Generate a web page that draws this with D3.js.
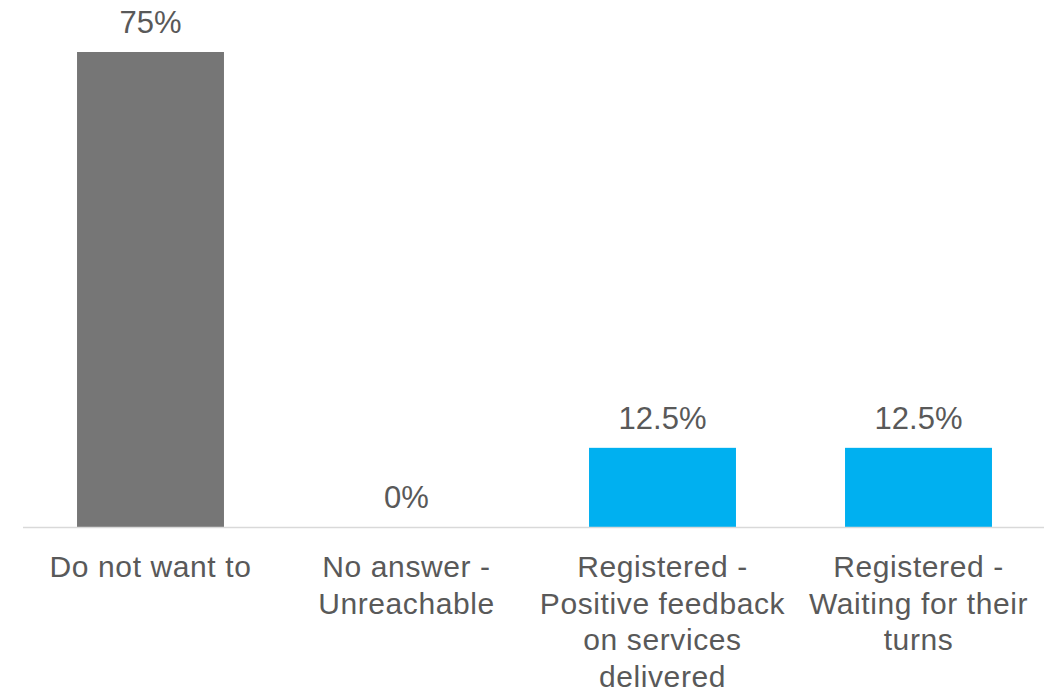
<!DOCTYPE html>
<html>
<head>
<meta charset="utf-8">
<script src="https://cdn.jsdelivr.net/npm/d3@7"></script>
<style>
  html, body { margin: 0; padding: 0; background: #ffffff; }
  svg { display: block; font-family: "Liberation Sans", Arial, sans-serif; }
</style>
</head>
<body>
<svg id="chart" width="1044" height="691"></svg>
<script>
// Categories, with the line breaks used for the axis labels
const categories = [
  "Do not want to",
  "No answer - Unreachable",
  "Registered - Positive feedback on services delivered",
  "Registered - Waiting for their turns"
];
const categoryLines = [
  ["Do not want to"],
  ["No answer -", "Unreachable"],
  ["Registered -", "Positive feedback", "on services", "delivered"],
  ["Registered -", "Waiting for their", "turns"]
];
// Share of respondents, in percent
const values = [75, 0, 12.5, 12.5];
const valueLabels = ["75%", "0%", "12.5%", "12.5%"];
const barColors = ["#767676", "#767676", "#00B0F0", "#00B0F0"];

const svg = d3.select("#chart");
const textColor = "#595959";

const x = d3.scaleBand()
  .domain(categories)
  .range([22.5, 1046.5])
  .paddingInner(0.426)
  .paddingOuter(0.213);

const y = d3.scaleLinear()
  .domain([0, 75])
  .range([527, 52]);

// Bars
svg.append("g")
  .selectAll("rect")
  .data(categories)
  .join("rect")
  .attr("x", d => x(d))
  .attr("y", (d, i) => y(values[i]))
  .attr("width", x.bandwidth())
  .attr("height", (d, i) => y(0) - y(values[i]))
  .attr("fill", (d, i) => barColors[i]);

// Category axis
const axis = svg.append("g")
  .attr("transform", `translate(0,${y(0)})`)
  .call(d3.axisBottom(x).tickSize(0).tickFormat(""));
axis.select(".domain")
  .attr("stroke", "#d9d9d9")
  .attr("stroke-width", 1.5);

axis.selectAll(".tick").each(function (d, i) {
  const t = d3.select(this).select("text")
    .attr("fill", textColor)
    .attr("font-size", 30)
    .attr("letter-spacing", 0.6)
    .attr("text-anchor", "middle")
    .attr("y", 0)
    .attr("dy", 0);
  t.text(null);
  t.selectAll("tspan")
    .data(categoryLines[i])
    .join("tspan")
    .attr("x", 0)
    .attr("y", (line, j) => 50 + j * 36.5)
    .text(line => line);
});

// Value labels above the bars
svg.append("g")
  .selectAll("text")
  .data(categories)
  .join("text")
  .attr("x", d => x(d) + x.bandwidth() / 2)
  .attr("y", (d, i) => y(values[i]) - 19)
  .attr("text-anchor", "middle")
  .attr("font-size", 31)
  .attr("fill", textColor)
  .text((d, i) => valueLabels[i]);
</script>
</body>
</html>
